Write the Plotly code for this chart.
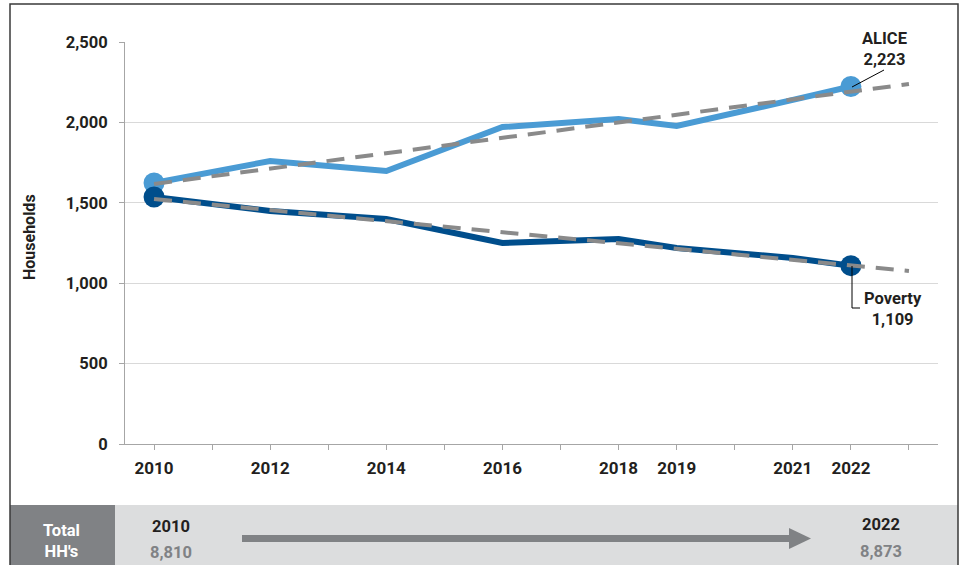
import plotly.graph_objects as go

years = [2010, 2012, 2014, 2016, 2018, 2019, 2021, 2022]
alice = [1623, 1760, 1698, 1971, 2021, 1978, 2140, 2223]
poverty = [1536, 1449, 1399, 1250, 1275, 1219, 1157, 1109]
trend_years = [2010, 2023]
alice_trend = [1617, 2239]
poverty_trend = [1524, 1076]
tick_years = list(range(2010, 2024))
tick_labels = [str(y) if y in years else "" for y in tick_years]
y_ticks = [0, 500, 1000, 1500, 2000, 2500]
y_labels = ["0", "500", "1,000", "1,500", "2,000", "2,500"]
total_start = ("2010", "8,810")
total_end = ("2022", "8,873")

W, H = 963, 565
L, R, T, B = 125, 25, 42, 121
PW, PH = W - L - R, H - T - B

def px(x):
    return (x - L) / PW

def py(y):
    return (H - B - y) / PH

ALICE_C = "#4A9BD4"
POV_C = "#004E8C"
GRAY = "#8A8A8A"
TXT = "#231F20"
FONT = "Roboto"

fig = go.Figure()
fig.add_trace(go.Scatter(x=years, y=alice, mode="lines",
                         line=dict(color=ALICE_C, width=6), hoverinfo="skip"))
fig.add_trace(go.Scatter(x=years, y=poverty, mode="lines",
                         line=dict(color=POV_C, width=6), hoverinfo="skip"))
fig.add_trace(go.Scatter(x=[years[0], years[-1]], y=[alice[0], alice[-1]], mode="markers",
                         marker=dict(color=ALICE_C, size=21), hoverinfo="skip"))
fig.add_trace(go.Scatter(x=[years[0], years[-1]], y=[poverty[0], poverty[-1]], mode="markers",
                         marker=dict(color=POV_C, size=21), hoverinfo="skip"))
fig.add_trace(go.Scatter(x=trend_years, y=alice_trend, mode="lines",
                         line=dict(color=GRAY, width=4, dash="18px,11px"), hoverinfo="skip"))
fig.add_trace(go.Scatter(x=trend_years, y=poverty_trend, mode="lines",
                         line=dict(color=GRAY, width=4, dash="18px,11px"), hoverinfo="skip"))

shapes = []
# bottom band
shapes.append(dict(type="rect", xref="paper", yref="paper", x0=px(115), x1=px(958),
                   y0=py(567), y1=py(505), fillcolor="#DCDDDE", line=dict(width=0), layer="below"))
shapes.append(dict(type="rect", xref="paper", yref="paper", x0=px(10), x1=px(115),
                   y0=py(567), y1=py(505), fillcolor="#808285", line=dict(width=0), layer="below"))
# arrow
shapes.append(dict(type="line", xref="paper", yref="paper", x0=px(242), x1=px(792),
                   y0=py(538.5), y1=py(538.5), line=dict(color="#808285", width=7)))
shapes.append(dict(type="path", xref="paper", yref="paper",
                   path=f"M {px(789)} {py(528)} L {px(811)} {py(538.5)} L {px(789)} {py(549)} Z",
                   fillcolor="#808285", line=dict(width=0)))
# outer frame
shapes.append(dict(type="rect", xref="paper", yref="paper", x0=px(10), x1=px(958),
                   y0=py(570), y1=py(4), line=dict(color="#3A3A3A", width=1.5)))
# callout lines
shapes.append(dict(type="line", xref="paper", yref="paper", x0=px(852), y0=py(87), x1=px(884), y1=py(70),
                   line=dict(color="#000000", width=1)))
shapes.append(dict(type="path", xref="paper", yref="paper",
                   path=f"M {px(852)} {py(266)} L {px(852)} {py(308)} L {px(860)} {py(308)}",
                   line=dict(color="#000000", width=1)))

def ann(x, y, text, size=16.5, color=TXT, family=FONT, **kw):
    d = dict(xref="paper", yref="paper", x=px(x), y=py(y), text=text, showarrow=False,
             xanchor="center", yanchor="middle", align="center",
             font=dict(family=family, size=size, color=color))
    d.update(kw)
    return d

annotations = [
    ann(30, 237, "<b>Households</b>", size=16, textangle=-90),
    ann(884, 49, "<b>ALICE<br>2,223</b>"),
    ann(893, 309, "<b>Poverty<br>1,109</b>"),
    ann(62, 541, "<b>Total<br>HH's</b>", color="#FFFFFF"),
    ann(171, 526, f"<b>{total_start[0]}</b>"),
    ann(171, 552, f"<b>{total_start[1]}</b>", color="#808285"),
    ann(881, 524, f"<b>{total_end[0]}</b>"),
    ann(881, 551, f"<b>{total_end[1]}</b>", color="#808285"),
]

fig.update_layout(
    width=W, height=H, margin=dict(l=L, r=R, t=T, b=B),
    paper_bgcolor="white", plot_bgcolor="white", showlegend=False,
    font=dict(family=FONT, color=TXT),
    shapes=shapes, annotations=annotations,
    xaxis=dict(range=[2009.5, 2023.5], tickvals=tick_years, ticktext=[f"<b>{t}</b>" if t else "" for t in tick_labels],
               showgrid=False, zeroline=False, showline=True, linecolor="#A6A6A6", linewidth=1,
               ticks="outside", ticklen=5, tickcolor="#A6A6A6", tickfont=dict(family=FONT, size=17, color=TXT),
               ticklabelstandoff=4, fixedrange=True),
    yaxis=dict(range=[0, 2500], tickvals=y_ticks, ticktext=[f"<b>{t}</b>" for t in y_labels],
               showgrid=True, gridcolor="#D9D9D9", gridwidth=1, zeroline=False,
               showline=True, linecolor="#A6A6A6", linewidth=1,
               ticks="outside", ticklen=5, tickcolor="#A6A6A6", tickfont=dict(family=FONT, size=16.5, color=TXT),
               ticklabelstandoff=8, fixedrange=True),
)

fig.write_html("out.html", config={"displayModeBar": False},
               post_script="document.body.style.margin='0px';document.body.style.overflow='hidden';")
